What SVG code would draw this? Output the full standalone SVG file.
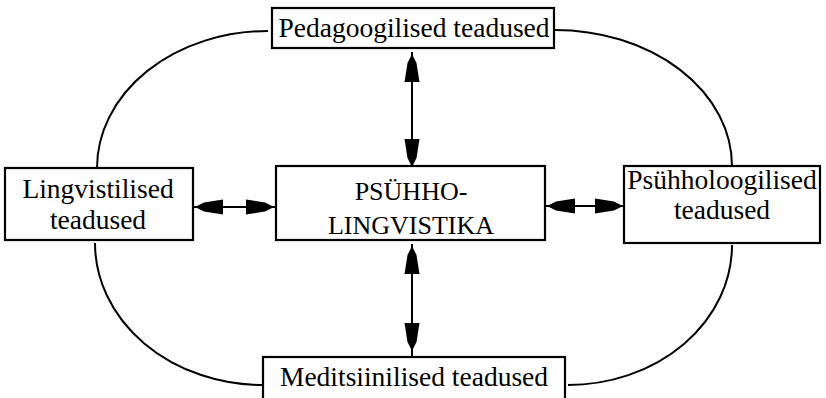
<svg xmlns="http://www.w3.org/2000/svg" width="826" height="398" viewBox="0 0 826 398">
  <style>
    .box { fill: #fff; stroke: #000; stroke-width: 2.2; }
    .lbl { font-family: "Liberation Serif", "Times New Roman", serif; font-size: 27.5px; fill: #000; text-anchor: middle; }
    .core { font-size: 26px; }
    .link { fill: none; stroke: #000; stroke-width: 2; }
    .head { fill: #000; }
  </style>
  <defs>
    <!-- filled arrowhead pointing right, tip at origin -->
    <polygon id="ah" points="0,0 -9,-4.5 -28,-7.5 -28,7.5 -9,4.5"/>
  </defs>
  <rect width="826" height="398" fill="#fff"/>

  <g id="connectors">
    <!-- outer ring arcs -->
    <path class="link" d="M97,168 A171,137 0 0 1 268,31"/>
    <path class="link" d="M555,30 A177,136 0 0 1 732,166"/>
    <path class="link" d="M95,243 A168,142 0 0 0 263,385"/>
    <path class="link" d="M732,245 A164,140 0 0 1 568,385"/>
    <!-- spokes -->
    <line class="link" x1="412" y1="52" x2="412" y2="166"/>
    <line class="link" x1="412" y1="244" x2="412" y2="357"/>
    <line class="link" x1="193" y1="207" x2="275" y2="207"/>
    <line class="link" x1="545" y1="206" x2="624" y2="206"/>
    <g class="head">
      <use href="#ah" transform="translate(412,54) rotate(-90)"/>
      <use href="#ah" transform="translate(412,167) rotate(90)"/>
      <use href="#ah" transform="translate(412,246) rotate(-90)"/>
      <use href="#ah" transform="translate(412,351) rotate(90)"/>
      <use href="#ah" transform="translate(195,207) rotate(180)"/>
      <use href="#ah" transform="translate(274,207)"/>
      <use href="#ah" transform="translate(547,206) rotate(180)"/>
      <use href="#ah" transform="translate(623,206)"/>
    </g>
  </g>

  <g id="pedagoogilised">
    <rect class="box" x="272" y="8" width="282" height="40"/>
    <text class="lbl" x="414" y="37">Pedagoogilised teadused</text>
  </g>
  <g id="lingvistilised">
    <rect class="box" x="5" y="168" width="188" height="72"/>
    <text class="lbl" x="98" y="198">Lingvistilised</text>
    <text class="lbl" x="98" y="229">teadused</text>
  </g>
  <g id="psuhholingvistika">
    <rect class="box" x="276" y="166" width="269" height="74"/>
    <text class="lbl core" x="411" y="200">PSÜHHO-</text>
    <text class="lbl core" x="411" y="234">LINGVISTIKA</text>
  </g>
  <g id="psuhholoogilised">
    <rect class="box" x="624" y="166" width="196" height="77"/>
    <text class="lbl" x="722" y="189">Psühholoogilised</text>
    <text class="lbl" x="722" y="219">teadused</text>
  </g>
  <g id="meditsiinilised">
    <rect class="box" x="263" y="357" width="302" height="50"/>
    <text class="lbl" x="414" y="386">Meditsiinilised teadused</text>
  </g>
</svg>
